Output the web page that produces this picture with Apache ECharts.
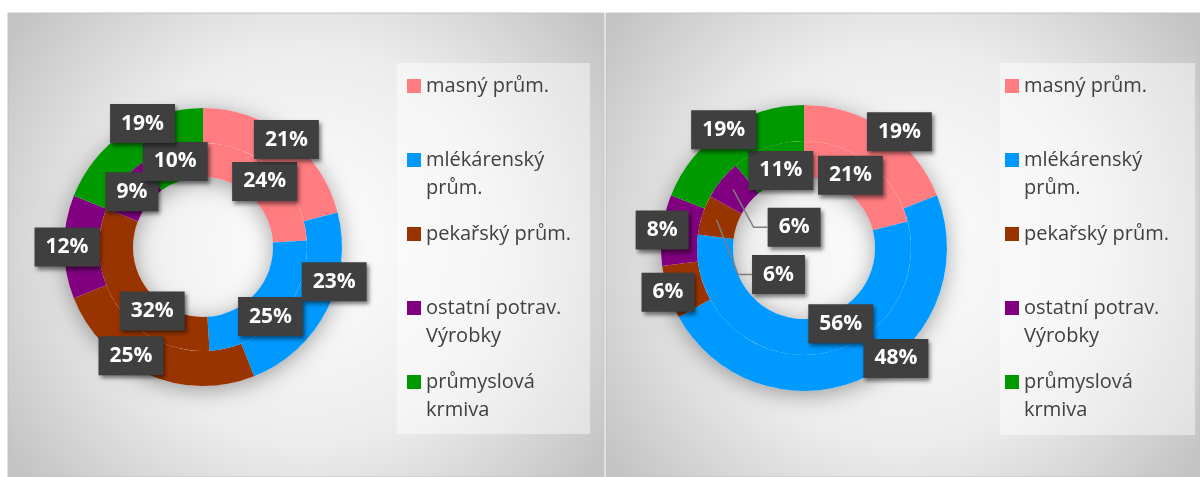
<!DOCTYPE html>
<html>
<head>
<meta charset="utf-8">
<script src="https://cdn.jsdelivr.net/npm/echarts@6/dist/echarts.min.js"></script>
<style>
  html, body { margin: 0; padding: 0; background: #fff; }
  #main { width: 1200px; height: 477px; }
</style>
</head>
<body>
<div id="main"></div>
<script>
var categories = ['masný prům.', 'mlékárenský\nprům.', 'pekařský prům.', 'ostatní potrav.\nVýrobky', 'průmyslová\nkrmiva'];
var colors = ['#ff7c80', '#0099ff', '#993300', '#800080', '#009900'];
var leftOuter = [21, 23, 25, 12, 19];
var leftInner = [24, 25, 32, 9, 10];
var rightOuter = [19, 48, 6, 8, 19];
var rightInner = [21, 56, 6, 6, 11];

// geometry of both doughnuts
var panels = {
  left: { center: [203, 247], hole: 70, split: 104, outer: 139, labelR: [127, 139] },
  right: { center: [804, 248], hole: 71, split: 107, outer: 143, labelR: [137, 143] }
};

// small shifts of some labels, as in the original (Excel moved them)
var labelNudge = {
  leftOuter: { 1: [10, -27], 2: [-18, -16], 4: [16, -11] },
  leftInner: { 1: [0, 10], 2: [22, 11] },
  rightOuter: { 0: [15, 2], 1: [31, -19] },
  rightInner: { 0: [-10, 0], 1: [31, -16], 2: [62, 55], 3: [61, 38], 4: [8, 9] }
};
var leaderFor = { rightInner: [2, 3] };
var leaders = {};

function nudger(key) {
  return function (p) {
    var n = (labelNudge[key] || {})[p.dataIndex];
    if (!n) return {};
    var r = p.labelRect;
    if ((leaderFor[key] || []).indexOf(p.dataIndex) >= 0 && !leaders[key + p.dataIndex]) {
      var ax = r.x + r.width / 2, ay = r.y + r.height / 2;
      var lx = r.x + n[0], ly = ay + n[1];
      leaders[key + p.dataIndex] = [[ax, ay], [lx - 14, ly], [lx, ly]];
    }
    return { dx: n[0], dy: n[1] };
  };
}

function toData(values) {
  return values.map(function (v, i) { return { name: categories[i], value: v }; });
}

var labelStyle = {
  show: true,
  position: 'inside',
  formatter: function (p) { return p.value + '%'; },
  color: '#fff',
  fontFamily: 'Open Sans',
  fontWeight: 'bold',
  fontSize: 21,
  lineHeight: 25,
  backgroundColor: '#3f3f3f',
  padding: [7, 11, 7, 11],
  shadowBlur: 4,
  shadowOffsetX: 2,
  shadowOffsetY: 3,
  shadowColor: 'rgba(0,0,0,0.5)'
};

function doughnut(p, outerVals, innerVals, key) {
  return [
    { // soft shadow under the ring
      type: 'pie', silent: true, center: p.center, radius: [p.hole, p.outer],
      data: [{ name: '', value: 1 }],
      itemStyle: { color: '#ffffff', shadowBlur: 22, shadowOffsetY: 4, shadowColor: 'rgba(0,0,0,0.35)' },
      label: { show: false }, labelLine: { show: false }, emphasis: { disabled: true }
    },
    {
      type: 'pie', silent: true, center: p.center, radius: [p.split, p.outer],
      color: colors, data: toData(outerVals),
      label: { show: false }, labelLine: { show: false }, emphasis: { disabled: true }
    },
    {
      type: 'pie', silent: true, center: p.center, radius: [p.hole, p.split],
      color: colors, data: toData(innerVals),
      label: labelStyle, labelLine: { show: false }, emphasis: { disabled: true },
      labelLayout: nudger(key + 'Inner')
    },
    { // labels of the outer ring, placed near its outer edge
      type: 'pie', silent: true, center: p.center, radius: p.labelR,
      data: toData(outerVals),
      itemStyle: { color: 'rgba(0,0,0,0)' },
      label: labelStyle, labelLine: { show: false }, emphasis: { disabled: true },
      labelLayout: nudger(key + 'Outer')
    }
  ];
}

function legendAt(left) {
  return {
    data: categories,
    orient: 'vertical',
    left: left,
    top: 44,
    padding: 0,
    itemGap: -10,
    itemWidth: 14,
    itemHeight: 14,
    icon: 'rect',
    selectedMode: false,
    formatter: function (name) {
      return name.indexOf('\n') >= 0 ? ' \n' + name : ' \n' + name + '\n ';
    },
    textStyle: { fontFamily: 'Open Sans', fontSize: 20, lineHeight: 28, color: '#404040' }
  };
}

function panelBg(id, x, w) {
  return {
    type: 'rect', id: id, z: 0, silent: true,
    shape: { x: x, y: 13, width: w, height: 464 },
    style: {
      fill: {
        type: 'radial', x: 0.5, y: 0.5, r: 0.78,
        colorStops: [
          { offset: 0, color: '#ffffff' },
          { offset: 0.55, color: '#ececec' },
          { offset: 1, color: '#c4c4c4' }
        ]
      },
      stroke: '#c2c2c2', lineWidth: 1
    }
  };
}

var backgrounds = [
  panelBg('bgL', 8, 596),
  panelBg('bgR', 606, 594),
  { type: 'rect', id: 'boxL', z: 1, silent: true, shape: { x: 397, y: 63, width: 193, height: 371 },
    style: { fill: 'rgba(255,255,255,0.45)' } },
  { type: 'rect', id: 'boxR', z: 1, silent: true, shape: { x: 1000, y: 63, width: 195, height: 372 },
    style: { fill: 'rgba(255,255,255,0.45)' } }
];

var myChart = echarts.init(document.getElementById('main'));

var option = {
  animation: false,
  backgroundColor: '#ffffff',
  legend: [legendAt(407), legendAt(1005)],
  graphic: backgrounds,
  series: [].concat(
    doughnut(panels.left, leftOuter, leftInner, 'left'),
    doughnut(panels.right, rightOuter, rightInner, 'right')
  )
};

myChart.setOption(option);

// leader lines for the two labels that were pulled into the hole,
// taken from the label layout of the first pass; rebuild the chart with them
var lines = Object.keys(leaders).map(function (k) {
  return {
    type: 'polyline', id: 'lead' + k, z: 10, silent: true,
    shape: { points: leaders[k] },
    style: { stroke: '#7f7f7f', lineWidth: 1.5, fill: null }
  };
});
option.graphic = backgrounds.concat(lines);
myChart.clear();
myChart.setOption(option, true);
</script>
</body>
</html>
